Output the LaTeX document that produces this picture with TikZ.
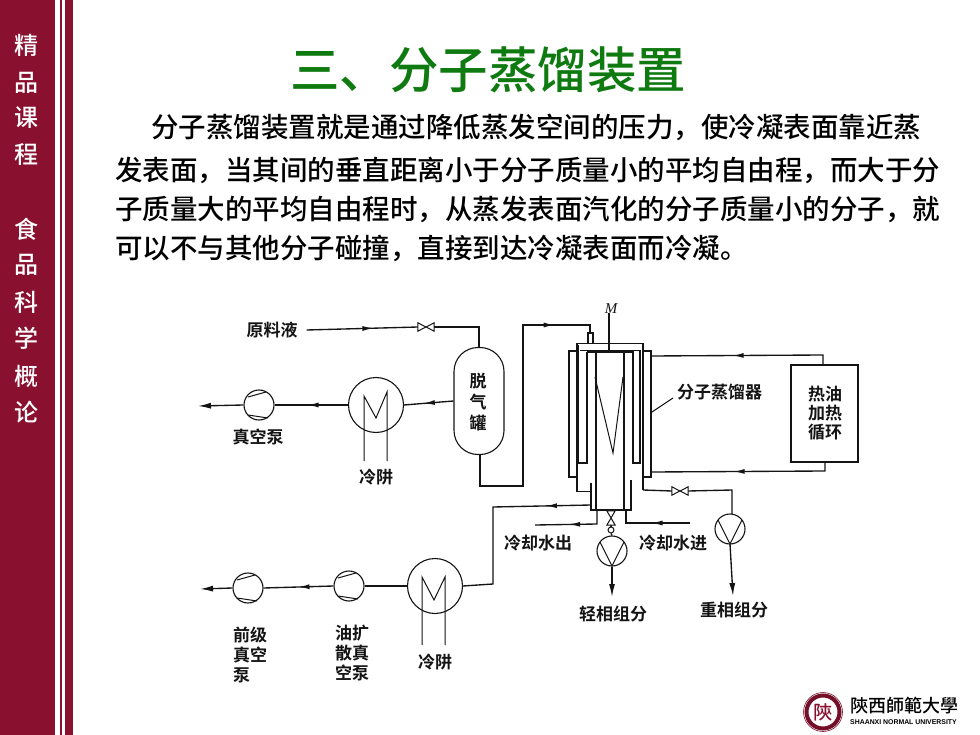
\documentclass[tikz,border=0pt]{standalone}
\usepackage{fontspec}
\setmainfont{Noto Sans CJK SC Medium}
\newfontfamily\cjkbold{Noto Sans CJK SC Bold}
\newfontfamily\cjktc{Noto Sans CJK TC Medium}
\newfontfamily\latinb{Liberation Sans}
\newfontfamily\latins{Liberation Serif}
\usetikzlibrary{arrows.meta,decorations.markings}
\definecolor{crim}{HTML}{8A1030}
\definecolor{ttl}{HTML}{0E7A10}
\definecolor{ink}{HTML}{141414}
\tikzset{
  x=1pt,y=-1pt,
  pipe/.style={draw=ink,line width=1.35pt},
  thin pipe/.style={draw=ink,line width=1pt},
  thick wall/.style={draw=ink,line width=2.2pt},
  midarr/.style={postaction={decorate,decoration={markings,mark=at position #1 with {\arrow{Latex[length=11pt,width=5pt]}}}}},
  endarr/.style={-{Latex[length=13pt,width=6pt]}},
  equip/.style={circle,draw=ink,line width=1.1pt,inner sep=0pt,fill=white},
  pumpnode/.style={equip,minimum size=30pt},
  condnode/.style={equip,minimum size=55pt},
  lab/.style={font=\cjkbold\fontsize{17}{20}\selectfont,text=ink,inner sep=0pt},
  side/.style={font=\fontsize{24}{24}\selectfont,text=white,inner sep=0pt},
  body/.style={font=\fontsize{27.5}{27.5}\selectfont,text=black,inner sep=0pt,anchor=west},
  valvenode/.style={inner sep=0pt,minimum width=16pt,minimum height=8pt},
  valvevert/.style={inner sep=0pt,minimum width=8pt,minimum height=14pt},
}
\newcommand{\bowH}[1]{\draw[thin pipe,fill=white] (#1.north west)--(#1.south east)--(#1.north east)--(#1.south west)--cycle;}
\newcommand{\bowV}[1]{\draw[thin pipe,fill=white] (#1.north west)--(#1.south east)--(#1.south west)--(#1.north east)--cycle;}
\newcommand{\chords}[1]{\draw[thin pipe] ([shift={(-11,-8)}]#1.center)--([shift={(7,-13)}]#1.center) ([shift={(-11,10)}]#1.center)--([shift={(9,13)}]#1.center);}
\newcommand{\vmark}[1]{\draw[thin pipe] ([shift={(-12,-9)}]#1.center)--([shift={(0,15)}]#1.center)--([shift={(12,-9)}]#1.center);}
\begin{document}
\begin{tikzpicture}
\useasboundingbox (0,0) rectangle (980,735);
\fill[white] (0,0) rectangle (980,735);
% sidebar
\fill[crim] (0,0) rectangle (55,735);
\fill[crim] (60,0) rectangle (62,735);
\fill[crim] (65,0) rectangle (73,735);
\node[side] (s1) at (26,45) {精};
\node[side] (s2) at (26,83) {品};
\node[side] (s3) at (26,118) {课};
\node[side] (s4) at (26,155) {程};
\node[side] (s5) at (26,229) {食};
\node[side] (s6) at (26,265) {品};
\node[side] (s7) at (26,302) {科};
\node[side] (s8) at (26,338) {学};
\node[side] (s9) at (26,376) {概};
\node[side] (s10) at (26,412) {论};
% title and text
\node[font=\fontsize{49.5}{49.5}\selectfont,text=ttl,inner sep=0pt] (title) at (488,70) {三、分子蒸馏装置};
\node[body] (l1) at (151,127) {分子蒸馏装置就是通过降低蒸发空间的压力，使冷凝表面靠近蒸};
\node[body] (l2) at (115,170) {发表面，当其间的垂直距离小于分子质量小的平均自由程，而大于分};
\node[body] (l3) at (115,209) {子质量大的平均自由程时，从蒸发表面汽化的分子质量小的分子，就};
\node[body] (l4) at (115,248) {可以不与其他分子碰撞，直接到达冷凝表面而冷凝。};
% upper train
\node[lab] (feed) at (272,330) {原料液};
\node[valvenode] (v1) at (426,327) {};
\node[draw=ink,line width=1.1pt,fill=white,rounded corners=24pt,minimum width=50pt,minimum height=107pt,inner sep=0pt] (tank) at (479,401) {};
\node[lab] (t1) at (478,381) {脱};
\node[lab] (t2) at (478,402) {气};
\node[lab] (t3) at (478,423) {罐};
\node[condnode] (c1) at (376,405) {};
\node[pumpnode] (p1) at (259,405) {};
\node[lab] (vac) at (258,437) {真空泵};
\node[lab] (trap1) at (376,477) {冷阱};
\coordinate (outl1) at (198,406);
\draw[pipe,midarr=.6] (feed.east)++(9,0) coordinate (f0) -- (v1.west);
\draw[pipe] (v1.east) -| (tank.north);
\bowH{v1}
\draw[pipe,midarr=.6] (tank.west) -- (c1.east);
\draw[pipe,midarr=.55] (c1.west) -- (p1.east);
\draw[pipe,endarr] (p1.west) -- (outl1);
\chords{p1}
\coordinate (c1a) at (364,461); \coordinate (c1b) at (387,461);
\draw[thin pipe] (c1a) -- (364,396) -- (376,418) -- (387,392) -- (c1b);
% still
\coordinate (stillin) at (590,333);
\draw[pipe,midarr=.86] (tank.south) ++(1,0) |- (523,486) -- (523,325) -- (590,325) -- (stillin);
\draw[pipe,fill=white] (588,343) -- (588,333) -- (593,333) -- (593,343);
\node[inner sep=0pt,font=\latins\itshape\fontsize{15}{15}\selectfont,text=ink] (mot) at (611,309) {M};
% jacket
\node[draw=ink,line width=1.1pt,inner sep=0pt,minimum width=82pt,minimum height=126pt] (jacket) at (610,414) {};
\fill[white] (577.5,343) rectangle (642.5,491);
\draw[pipe] (591,491.5) -- (577,491.5) -- (577,343.5) -- (643,343.5) -- (643,490);
% condenser tube
\draw[thick wall] (578,345) -- (578,463);
\draw[pipe] (578,463) -- (587,463) -- (587,352);
\draw[pipe,line width=1.7pt] (580,350.5) -- (640,350.5);
\draw[pipe] (587,352) -- (633,352) -- (633,463) -- (640,463) -- (640,350);
\draw[pipe] (609,313) -- (609,352);
% centre cylinder
\draw[pipe] (596,352) -- (596,510);
\draw[pipe] (624,352) -- (624,510);
\draw[pipe] (591,483) -- (591,510) -- (631,510) -- (631,480);
\draw[thin pipe] (595,377) -- (613,453) -- (623,377);
% heating loop
\node[draw=ink,line width=1.1pt,inner sep=0pt,minimum width=67pt,minimum height=97pt] (oil) at (824.5,413.5) {};
\node[lab] (o1) at (825,394) {热油};
\node[lab] (o2) at (825,413) {加热};
\node[lab] (o3) at (825,432) {循环};
\draw[pipe,midarr=.55] (oil.north -| 823,0) -- (823,355) -- (651,356);
\draw[pipe,midarr=.55] (oil.south -| 825,0) -- (825,471) -- (652,472);
% leader
\node[lab,anchor=west] (still) at (677,392) {分子蒸馏器};
\coordinate (ldr) at (652,412);
\draw[thin pipe] (ldr) -- (673,398);
% bottom valve line
\node[valvenode] (v2) at (680,491) {};
\node[pumpnode] (p3) at (730,529) {};
\draw[pipe] (643,490) -- (v2.west);
\draw[pipe] (v2.east) -- (732,490) -- (732,514);
\bowH{v2}
\vmark{p3}
\coordinate (hv) at (733,596);
\draw[pipe,endarr] (730,544) -- (hv);
\node[lab] (heavy) at (734,610) {重相组分};
% light fraction
\node[valvevert] (v3) at (611,518) {};
\node[pumpnode] (p2) at (612,551) {};
\node[circle,draw=ink,line width=1pt,inner sep=0pt,minimum size=6pt] (k3) at (611,530) {};
\draw[pipe] (v3.south) -- (k3.north);
\draw[pipe] (k3.south) -- (p2.north);
\bowV{v3}
\vmark{p2}
\coordinate (lt) at (612,597);
\draw[pipe,endarr] (p2.south) -- (lt);
\node[lab] (light) at (613,614) {轻相组分};
% cooling water
\coordinate (cwo) at (535,525);
\coordinate (cwi) at (690,523);
\draw[pipe,midarr=.55] (597,510) -- (597,524) -- (cwo);
\draw[pipe,midarr=.5] (cwi) -- (626,523) -- (626,510);
\node[lab] (cw1) at (538,543) {冷却水出};
\node[lab] (cw2) at (673,543) {冷却水进};
% lower train
\node[condnode] (c2) at (435,586) {};
\node[pumpnode] (p4) at (349,586) {};
\node[pumpnode] (p5) at (248,588) {};
\draw[pipe,midarr=.22] (591,505) -- (493,507) -- (493,584) -- (c2.east);
\draw[pipe] (c2.west) -- (p4.east);
\draw[pipe,midarr=.5] (p4.west) -- (p5.east);
\coordinate (outl2) at (200,589);
\draw[pipe,endarr] (p5.west) -- (outl2);
\chords{p4}
\chords{p5}
\coordinate (c2a) at (422,645); \coordinate (c2b) at (445,645);
\draw[thin pipe] (c2a) -- (422,577) -- (434,600) -- (445,577) -- (c2b);
\node[lab,anchor=west] (a1) at (233,635) {前级};
\node[lab,anchor=west] (a2) at (233,655) {真空};
\node[lab,anchor=west] (a3) at (233,675) {泵};
\node[lab,anchor=west] (b1) at (335,633) {油扩};
\node[lab,anchor=west] (b2) at (335,653) {散真};
\node[lab,anchor=west] (b3) at (335,673) {空泵};
\node[lab] (trap2) at (435,662) {冷阱};
% logo
\node[circle,draw=crim!85!black,line width=4pt,inner sep=0pt,minimum size=33pt,font=\cjktc\fontsize{19}{19}\selectfont,text=crim] (seal) at (823,712) {陝};
\draw[crim!85!black,line width=.6pt] (seal.center) circle (19.5);
\node[inner sep=0pt,font=\cjktc\fontsize{18}{18}\selectfont,text=black,anchor=west] (u1) at (850,706) {陝西師範大學};
\node[inner sep=0pt,font=\latinb\bfseries\fontsize{6.9}{7}\selectfont,text=black,anchor=west] (u2) at (850,722) {SHAANXI NORMAL UNIVERSITY};
\end{tikzpicture}
\end{document}
